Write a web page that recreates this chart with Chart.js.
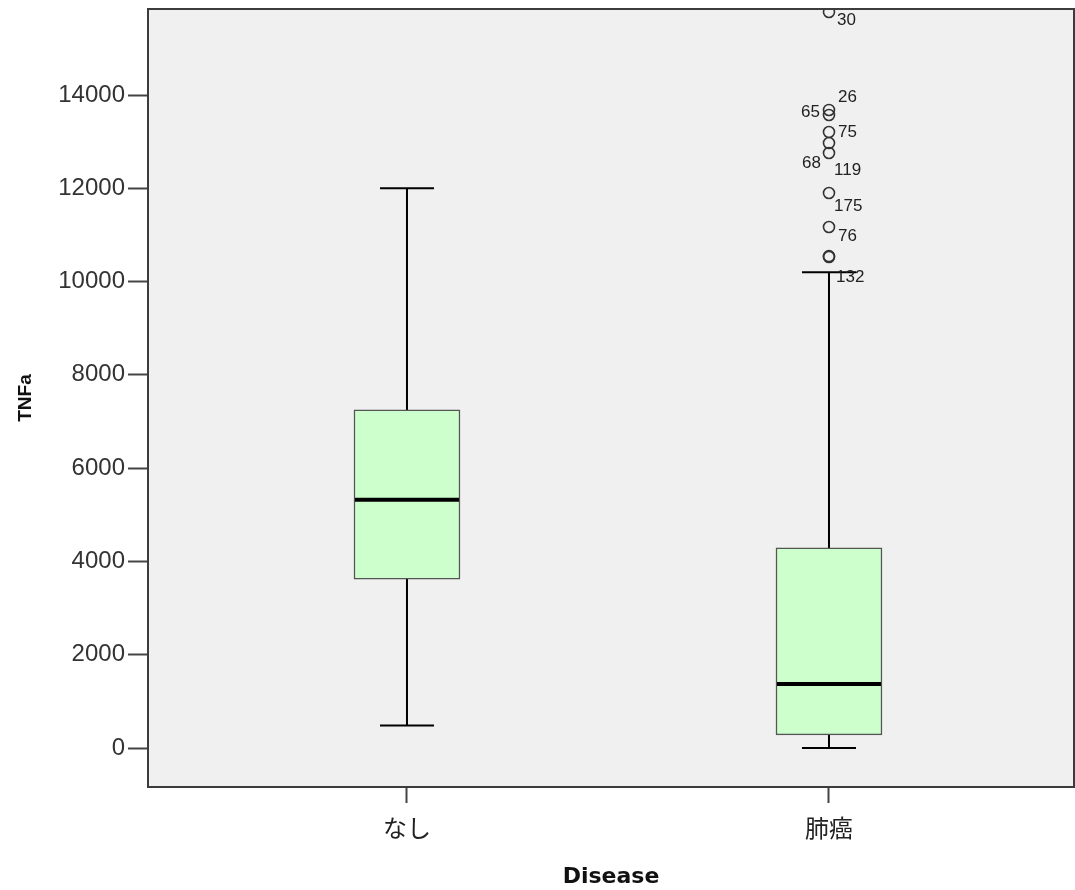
<!DOCTYPE html>
<html>
<head>
<meta charset="utf-8">
<script src="https://cdn.jsdelivr.net/npm/chart.js@4.4.1/dist/chart.umd.min.js"></script>
<style>
  body { margin: 0; background: #fff; }
</style>
</head>
<body>
<canvas id="boxChart" width="1075" height="890"></canvas>
<script>
const categories = ["なし", "肺癌"];
const whiskerLow = [480, 0];
const q1 = [3620, 280];
const medians = [5320, 1370];
const q3 = [7250, 4290];
const whiskerHigh = [12000, 10200];

// outliers (all in 肺癌)
const outlierValues = [15780, 13680, 13572, 13208, 12972, 12757, 11900, 11171, 10527, 10545];
const outlierLabels = ["30", "26", "65", "75", "68", "119", "175", "76", "", "132"];

const yTicks = [0, 2000, 4000, 6000, 8000, 10000, 12000, 14000];

// where each case number sits next to its circle (dx, dy, align)
const labelOffsets = [
    [8, 8, "left"], [9, -13, "left"], [-9, -3, "right"], [9, 0, "left"],
    [-8, 20, "right"], [5, 17, "left"], [5, 13, "left"], [9, 9, "left"],
    [0, 0, "left"], [7, 21, "left"]
];

const boxData = categories.map((c, i) => ({ x: i + 1, y: [q1[i], q3[i]] }));
const outlierData = outlierValues.map(v => ({ x: 2, y: v }));

const boxPlotPlugin = {
    id: "boxPlot",
    beforeDraw(chart) {
        const { ctx, chartArea: a } = chart;
        ctx.save();
        ctx.fillStyle = "#f0f0f0";
        ctx.fillRect(a.left, a.top, a.right - a.left, a.bottom - a.top);
        ctx.restore();
    },
    beforeDatasetsDraw(chart) {
        const { ctx, scales: { x, y } } = chart;
        ctx.save();
        ctx.strokeStyle = "#000";
        ctx.lineWidth = 2;
        categories.forEach((c, i) => {
            const px = x.getPixelForValue(i + 1);
            ctx.beginPath();
            ctx.moveTo(px, y.getPixelForValue(whiskerLow[i]));
            ctx.lineTo(px, y.getPixelForValue(whiskerHigh[i]));
            [whiskerLow[i], whiskerHigh[i]].forEach(v => {
                const py = y.getPixelForValue(v);
                ctx.moveTo(px - 27, py);
                ctx.lineTo(px + 27, py);
            });
            ctx.stroke();
        });
        ctx.restore();
    },
    afterDatasetsDraw(chart) {
        const { ctx, chartArea: a, scales: { x, y } } = chart;
        ctx.save();
        // medians
        ctx.strokeStyle = "#000";
        ctx.lineWidth = 4;
        categories.forEach((c, i) => {
            const px = x.getPixelForValue(i + 1);
            const py = y.getPixelForValue(medians[i]);
            ctx.beginPath();
            ctx.moveTo(px - 52, py);
            ctx.lineTo(px + 52, py);
            ctx.stroke();
        });
        // case labels
        ctx.fillStyle = "#222";
        ctx.font = "17px 'Liberation Sans', Arial, sans-serif";
        ctx.textBaseline = "middle";
        outlierValues.forEach((v, i) => {
            if (!outlierLabels[i]) return;
            const off = labelOffsets[i];
            ctx.textAlign = off[2];
            ctx.fillText(outlierLabels[i], x.getPixelForValue(2) + off[0], y.getPixelForValue(v) + off[1]);
        });
        // frame
        ctx.strokeStyle = "#3c3c3c";
        ctx.lineWidth = 2;
        ctx.strokeRect(a.left, a.top, a.right - a.left, a.bottom - a.top);
        ctx.restore();
    }
};

new Chart(document.getElementById("boxChart"), {
    type: "bar",
    data: {
        datasets: [
            {
                type: "scatter",
                data: outlierData,
                pointStyle: "circle",
                pointRadius: 5.5,
                pointBorderWidth: 1.6,
                borderColor: "#333",
                backgroundColor: "rgba(0,0,0,0)",
                order: 0
            },
            {
                data: boxData,
                backgroundColor: "#ccffcc",
                borderColor: "#555",
                borderWidth: 1.5,
                borderSkipped: false,
                barThickness: 106,
                order: 1
            }
        ]
    },
    plugins: [boxPlotPlugin],
    options: {
        responsive: false,
        animation: false,
        layout: { autoPadding: false, padding: { top: 9, right: 1, left: 0, bottom: 0 } },
        plugins: { legend: { display: false }, tooltip: { enabled: false } },
        scales: {
            x: {
                type: "linear",
                offset: false,
                min: 0.3863,
                max: 2.5806,
                afterBuildTicks: s => { s.ticks = categories.map((c, i) => ({ value: i + 1 })); },
                afterFit: s => { s.height = 103; s.paddingLeft = 0; s.paddingRight = 0; },
                ticks: {
                    callback: v => categories[v - 1],
                    font: { family: "'Noto Sans CJK JP'", size: 24 },
                    color: "#222",
                    padding: 10,
                    maxRotation: 0
                },
                grid: { drawOnChartArea: false, offset: false, tickLength: 16, tickColor: "#444", tickWidth: 2 },
                border: { display: false },
                title: {
                    display: true,
                    text: "Disease",
                    font: { family: "'DejaVu Sans'", size: 22, weight: "bold" },
                    color: "#111",
                    padding: { top: 0, bottom: 0 }
                }
            },
            y: {
                min: -836,
                max: 15844,
                afterBuildTicks: s => { s.ticks = yTicks.map(v => ({ value: v })); },
                afterFit: s => { s.width = 148; s.paddingTop = 0; s.paddingBottom = 0; },
                ticks: {
                    callback: v => String(v),
                    font: { family: "'Liberation Sans', Arial, sans-serif", size: 24 },
                    color: "#333",
                    padding: 3
                },
                grid: { drawOnChartArea: false, tickLength: 20, tickColor: "#444", tickWidth: 2 },
                border: { display: false },
                title: {
                    display: true,
                    text: "TNFa",
                    font: { family: "'Liberation Sans', Arial, sans-serif", size: 19, weight: "bold" },
                    color: "#111",
                    padding: { top: 14, bottom: 0 }
                }
            }
        }
    }
});
</script>
</body>
</html>
